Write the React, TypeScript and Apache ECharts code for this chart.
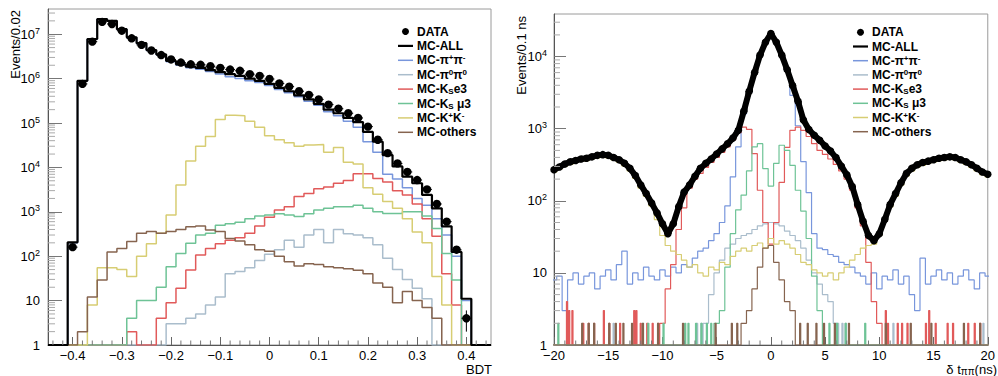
import React, { useEffect, useRef } from "react";
import * as echarts from "echarts";

const FONT = "'Liberation Sans', Arial, Helvetica, sans-serif";

// ---------------- Left panel: BDT, bins of 0.02 (centres -0.44 ... 0.44) ----------------
const bdtCenters: number[] = Array.from({ length: 45 }, (_, k) => Math.round((-0.44 + 0.02 * k) * 100) / 100);

const dataLeft = [0, 0, 160, 7.6e5, 6.8e6, 1.9e7, 1.7e7, 1.2e7, 8.1e6, 5.75e6, 4.3e6, 3.4e6, 2.7e6, 2.3e6, 2.1e6, 2.05e6, 1.9e6, 1.75e6, 1.6e6, 1.5e6, 1.26e6, 1.15e6, 9.8e5, 7.8e5, 6.6e5, 5.2e5, 4.3e5, 3.4e5, 2.6e5, 2.1e5, 1.66e5, 1.3e5, 8.3e4, 4.2e4, 2.1e4, 1.23e4, 7900, 5200, 3200, 1500, 600, 140, 4, 0, 0];
const mcAllLeft = [0, 0, 205, 8.9e5, 7.8e6, 2.2e7, 2.0e7, 1.3e7, 8.5e6, 6.3e6, 4.4e6, 3.5e6, 2.5e6, 2.1e6, 1.86e6, 1.74e6, 1.55e6, 1.4e6, 1.26e6, 1.15e6, 1.0e6, 8.9e5, 7.6e5, 6.2e5, 5.2e5, 4.2e5, 3.4e5, 2.7e5, 2.0e5, 1.66e5, 1.3e5, 1.05e5, 6.3e4, 3.8e4, 1.9e4, 1.05e4, 6200, 4400, 2400, 1200, 470, 125, 11, 0, 0];
const pipiLeft = [0, 0, 200, 8.8e5, 7.7e6, 2.18e7, 1.98e7, 1.28e7, 8.3e6, 6.1e6, 4.3e6, 3.4e6, 2.4e6, 2.0e6, 1.75e6, 1.62e6, 1.45e6, 1.27e6, 1.1e6, 1.0e6, 9.0e5, 8.2e5, 7.0e5, 5.7e5, 4.8e5, 3.9e5, 3.1e5, 2.5e5, 1.8e5, 1.45e5, 1.1e5, 8.0e4, 3.8e4, 2.2e4, 7000, 5500, 3500, 2000, 1400, 700, 300, 100, 10, 0, 0];
const pi0Left = [0, 0, 0, 0, 0, 0, 0, 0, 0, 0, 0, 0, 3, 3, 4, 5, 8, 12, 40, 45, 55, 80, 110, 140, 230, 160, 300, 400, 200, 400, 320, 300, 260, 180, 90, 50, 30, 19, 11, 0, 0, 0, 0, 0, 0];
const ke3Left = [0, 0, 0, 0, 0, 0, 0, 0, 2, 0, 0, 4, 9, 19, 49, 106, 150, 190, 230, 260, 330, 480, 750, 1100, 1300, 2200, 2600, 3300, 3600, 4400, 5100, 7200, 7200, 5600, 4700, 3000, 2400, 1500, 700, 280, 40, 8, 0, 0, 0];
const kmu3Left = [0, 0, 0, 0, 0, 0, 0, 0, 4, 10, 10, 20, 58, 115, 195, 300, 330, 500, 540, 580, 700, 800, 850, 900, 850, 780, 900, 1100, 1200, 1300, 1300, 1400, 1200, 1000, 920, 920, 1000, 1000, 800, 420, 115, 29, 0, 0, 0];
const kkLeft = [0, 0, 0, 0, 8, 55, 55, 50, 35, 100, 190, 330, 850, 4000, 14000, 30000, 50000, 120000, 150000, 145000, 110000, 80000, 52000, 42000, 36000, 30000, 32000, 33000, 22000, 28000, 13000, 12000, 3500, 2500, 1700, 1200, 700, 350, 200, 35, 8, 0, 0, 0, 0];
const othersLeft = [0, 0, 0, 2, 12, 29, 125, 150, 215, 330, 360, 330, 360, 400, 460, 480, 390, 360, 250, 220, 180, 140, 130, 100, 75, 60, 68, 65, 58, 55, 52, 48, 40, 25, 20, 9, 16, 10, 7, 4, 0, 0, 0, 0, 0];

// ---------------- Right panel: delta t, read in 0.5 ns steps (centres -20 ... 20) ----------------
const dtCenters: number[] = Array.from({ length: 81 }, (_, i) => -20 + 0.5 * i);

const dataRight = [
  270, 295, 324, 347, 363, 380, 389, 407, 427, 437,
  427, 398, 372, 331, 282, 224, 166, 126, 93, 68,
  48, 35, 48, 83, 132, 166, 219, 282, 331, 380,
  447, 525, 617, 741, 955, 1740, 3310, 6030, 10500, 15800,
  20900, 15800, 10500, 6600, 3980, 2400, 1320, 977, 813, 692,
  575, 490, 398, 302, 229, 158, 89, 52, 33, 28,
  35, 55, 89, 126, 178, 240, 282, 316, 339, 355,
  372, 389, 398, 407, 398, 372, 347, 316, 282, 251,
  234,
];
const mcAllRight = dataRight;
const pipiRight = [
  8, 9, 3, 8, 10, 7, 9, 10, 6, 9,
  11, 8, 13, 20, 7, 10, 8, 12, 9, 8,
  11, 9, 12, 10, 13, 12, 16, 20, 22, 28,
  35, 50, 85, 215, 560, 1600, 3200, 6000, 10500, 15800,
  20500, 15800, 10500, 6300, 2900, 1100, 350, 130, 35, 22,
  21, 18, 17, 14, 13, 12, 10, 9, 7, 10,
  6, 9, 8, 11, 7, 9, 5, 3, 16, 7,
  9, 11, 8, 10, 7, 9, 11, 8, 6, 10,
  9,
];
const kkRight = [
  250, 275, 300, 320, 340, 355, 360, 380, 395, 405,
  395, 370, 345, 305, 260, 205, 150, 115, 85, 55,
  33, 24, 20, 18, 15, 12, 13, 10, 9, 12,
  11, 14, 13, 17, 20, 22, 20, 24, 26, 22,
  30, 25, 28, 25, 22, 18, 14, 13, 11, 10,
  9, 10, 8, 10, 12, 15, 18, 22, 24, 25,
  33, 52, 82, 115, 165, 220, 260, 290, 310, 330,
  345, 360, 370, 380, 370, 345, 320, 290, 260, 230,
  215,
];
// bodies: first centre, then values in 0.5 ns steps
const ke3RightStart = -10;
const ke3Right = [2, 6, 13, 40, 80, 150, 200, 240, 290, 340, 400, 470, 560, 700, 880, 1050, 980, 450, 140, 50, 25, 50, 180, 550, 950, 1050, 950, 780, 620, 500, 440, 380, 320, 260, 200, 140, 80, 45, 14, 4, 2];
const kmu3RightStart = -5;
const kmu3Right = [2, 3, 12, 35, 75, 120, 260, 560, 620, 280, 160, 330, 590, 500, 310, 140, 72, 30, 9, 3];
const pi0RightStart = -6;
const pi0Right = [2, 5, 10, 15, 22, 25, 30, 33, 35, 40, 45, 48, 50, 48, 45, 38, 33, 28, 22, 15, 10, 7, 5, 4, 2];
const othersRightStart = -2.5;
const othersRight = [2, 3, 6, 12, 22, 24, 14, 8, 4, 3];
// isolated single-bin (0.1 ns) entries: [bin left edge, events]
const ke3Spikes: [number, number][] = [[-18.8, 4], [-18.6, 3], [-18.3, 3], [-17.3, 2], [-16.9, 2], [-16.4, 2], [-15.5, 3], [-14.9, 2], [-14.0, 2], [-12.7, 3], [-12.4, 3], [-12.1, 2], [-11.5, 2], [-10.9, 2], [-10.5, 2], [10.5, 3], [10.7, 2], [11.6, 2], [12.0, 2], [12.5, 2], [14.2, 2], [14.5, 3], [15.1, 2], [16.3, 2], [16.8, 2], [18.1, 2], [18.7, 2], [19.3, 2]];
const kmu3Spikes: [number, number][] = [[-19.6, 2], [-11.8, 2], [-11.3, 2], [-10.0, 2], [-8.0, 2], [-7.7, 2], [-7.0, 2], [-6.5, 2], [-6.0, 2], [-5.6, 2], [5.3, 2], [6.0, 2], [6.8, 2], [8.6, 2]];
const pi0Spikes: [number, number][] = [[-14.6, 2], [-6.8, 2], [-6.5, 2], [6.5, 2], [6.9, 2], [11.2, 2], [19.5, 2]];
const othersSpikes: [number, number][] = [[-17.5, 2], [-16.9, 2], [-16.4, 2], [-14.9, 2], [-14.3, 2], [-13.7, 2], [-12.8, 2], [-11.8, 2], [-10.5, 2], [-8.2, 2], [-5.2, 2], [-3.7, 2], [-3.2, 2], [2.7, 2], [3.3, 2], [4.2, 2], [4.8, 2], [5.8, 2], [7.1, 2], [10.5, 2], [12.9, 2], [14.8, 2], [17.8, 2], [19.3, 2]];

// ---------------- styles ----------------
const C = {
  data: "#000000",
  all: "#000000",
  pipi: "#7896dc",
  pi0: "#aabdcc",
  ke3: "#e15a5a",
  kmu3: "#6ec396",
  kk: "#d7cd73",
  others: "#86644f",
};
const legendLabels = ["DATA", "MC-ALL", "MC-π{sup|+}π{sup|-}", "MC-π{sup|0}π{sup|0}", "MC-K{sub|S}e3", "MC-K{sub|S} μ3", "MC-K{sup|+}K{sup|-}", "MC-others"];
const legendColors = [C.data, C.all, C.pipi, C.pi0, C.ke3, C.kmu3, C.kk, C.others];

const LEFT_YMAX = 3.7e7;
const RIGHT_YMAX = 3.9e4;

function stepFromCenters(centers: number[], vals: number[], half: number): [number, number][] {
  const pts: [number, number][] = [];
  for (let i = 0; i < centers.length; i++) pts.push([centers[i] - half, vals[i] > 1 ? vals[i] : 1]);
  const last = vals[vals.length - 1];
  pts.push([centers[centers.length - 1] + half, last > 1 ? last : 1]);
  return pts;
}

function stepFine(body: number[], start: number, spikes: [number, number][]): [number, number][] {
  const X0 = -20.25, F = 0.1, N = 405;
  const fine: number[] = new Array(N).fill(0);
  body.forEach((v, i) => {
    const c = start + 0.5 * i;
    const j0 = Math.round((c - 0.25 - X0) / F);
    for (let j = j0; j < j0 + 5; j++) if (j >= 0 && j < N) fine[j] = v;
  });
  spikes.forEach(([x, v]) => {
    const j = Math.round((x - X0) / F);
    if (j >= 0 && j < N) fine[j] = Math.max(fine[j], v);
  });
  const pts: [number, number][] = [];
  let prev = -1;
  for (let j = 0; j < N; j++) {
    const v = fine[j] > 1 ? fine[j] : 1;
    if (v !== prev) {
      pts.push([X0 + F * j, v]);
      prev = v;
    }
  }
  pts.push([X0 + F * N, prev]);
  return pts;
}

function histSeries(name: string, data: [number, number][], color: string, width: number, axis: number, z = 2) {
  return {
    type: "line",
    name,
    xAxisIndex: axis,
    yAxisIndex: axis,
    data,
    step: "end",
    symbol: "none",
    showSymbol: false,
    lineStyle: { color, width },
    silent: true,
    z,
  };
}

function fmtLog(v: number) {
  const l = Math.log10(v);
  const r = Math.round(l);
  if (Math.abs(l - r) > 1e-6) return "";
  if (r === 0) return "1";
  if (r === 1) return "10";
  return "10{s|" + r + "}";
}

function fmtX1(v: number) {
  if (Math.abs(v) < 1e-9) return "0";
  return (v < 0 ? "\u2212" : "") + Math.abs(v).toFixed(1);
}
function fmtX2(v: number) {
  if (Math.abs(v) < 1e-9) return "0";
  return (v < 0 ? "\u2212" : "") + String(Math.abs(v));
}

function legendGraphic(lineX0: number, lineX1: number, textX: number, y0: number, dy: number) {
  const els: any[] = [];
  legendLabels.forEach((lab, i) => {
    const y = y0 + dy * i;
    if (i === 0) {
      els.push({ type: "circle", shape: { cx: (lineX0 + lineX1) / 2, cy: y, r: 3.5 }, style: { fill: "#000" }, silent: true });
    } else {
      els.push({
        type: "line",
        shape: { x1: lineX0, y1: y, x2: lineX1, y2: y },
        style: { stroke: legendColors[i], lineWidth: i === 1 ? 2.2 : 1.5 },
        silent: true,
      });
    }
    els.push({
      type: "text",
      x: textX,
      y,
      silent: true,
      style: {
        text: lab,
        fill: "#000",
        fontFamily: FONT,
        fontSize: 12,
        fontWeight: "bold",
        lineHeight: 13,
        align: "left",
        verticalAlign: "middle",
        textAlign: "left",
        textVerticalAlign: "middle",
        rich: {
          sup: { fontSize: 8, fontWeight: "bold", fontFamily: FONT, verticalAlign: "top", lineHeight: 6, fill: "#000" },
          sub: { fontSize: 8, fontWeight: "bold", fontFamily: FONT, verticalAlign: "bottom", lineHeight: 6, fill: "#000" },
        },
      },
    });
  });
  return els;
}

function minorY(axis: number, xMin: number, ymax: number, len: number) {
  const pts: [number, number][] = [];
  for (let d = 0; d < 9; d++)
    for (let m = 2; m <= 9; m++) {
      const v = m * Math.pow(10, d);
      if (v < ymax) pts.push([xMin, v]);
    }
  return {
    type: "custom",
    xAxisIndex: axis,
    yAxisIndex: axis,
    data: pts,
    encode: { x: 0, y: 1 },
    silent: true,
    z: 6,
    renderItem: (_p: any, api: any) => {
      const p = api.coord([api.value(0), api.value(1)]);
      return { type: "line", shape: { x1: p[0], y1: p[1], x2: p[0] + len, y2: p[1] }, style: { stroke: "#aaaaaa", lineWidth: 1 } };
    },
  };
}

function minorX(axis: number, vals: number[]) {
  return {
    type: "custom",
    xAxisIndex: axis,
    yAxisIndex: axis,
    data: vals.map((v) => [v, 1]),
    encode: { x: 0, y: 1 },
    silent: true,
    z: 6,
    renderItem: (_p: any, api: any) => {
      const p = api.coord([api.value(0), 1]);
      return { type: "line", shape: { x1: p[0], y1: p[1], x2: p[0], y2: p[1] - 4.5 }, style: { stroke: "#777777", lineWidth: 1 } };
    },
  };
}

function buildOption() {
  const half = 0.01;
  const leftMinorX: number[] = [];
  for (let k = -22; k <= 22; k++) if (k % 5 !== 0) leftMinorX.push(Math.round(k * 2) / 100);
  const rightMinorX: number[] = [];
  for (let k = -19; k <= 19; k++) if (k % 5 !== 0) rightMinorX.push(k);

  const dataPts = bdtCenters.map((c, i) => [c, dataLeft[i]]).filter((p) => p[1] > 0);

  const yAxisCommon = (max: number, tickLen: number, margin: number) => ({
    type: "log",
    logBase: 10,
    min: 1,
    max,
    axisLine: { show: true, onZero: false, lineStyle: { color: "#555", width: 1 } },
    axisTick: { show: true, inside: true, length: tickLen, lineStyle: { color: "#777" } },
    splitLine: { show: false },
    axisLabel: {
      margin,
      fontSize: 13,
      color: "#000",
      fontFamily: FONT,
      lineHeight: 16,
      showMaxLabel: false,
      formatter: fmtLog,
      rich: { s: { fontSize: 9, fontFamily: FONT, verticalAlign: "top", lineHeight: 9, color: "#000" } },
    },
  });

  const xAxisCommon = {
    type: "value",
    axisLine: { show: true, onZero: false, lineStyle: { color: "#555", width: 1 } },
    axisTick: { show: true, inside: true, length: 8, lineStyle: { color: "#666" } },
    splitLine: { show: false },
  };

  return {
    animation: false,
    backgroundColor: "#ffffff",
    textStyle: { fontFamily: FONT },
    grid: [
      { left: 48, top: 9, width: 443, height: 336, show: true, borderColor: "#9a9a9a", borderWidth: 1 },
      { left: 554, top: 14, width: 440, height: 331, show: true, borderColor: "#9a9a9a", borderWidth: 1 },
    ],
    xAxis: [
      {
        ...xAxisCommon,
        gridIndex: 0,
        min: -0.45,
        max: 0.45,
        splitNumber: 9,
        axisLabel: { margin: 4, fontSize: 13, color: "#000", fontFamily: FONT, showMinLabel: false, showMaxLabel: false, formatter: fmtX1 },
      },
      {
        ...xAxisCommon,
        gridIndex: 1,
        min: -20,
        max: 20,
        interval: 5,
        axisLabel: { margin: 4, fontSize: 13, color: "#000", fontFamily: FONT, formatter: fmtX2 },
      },
    ],
    yAxis: [
      { ...yAxisCommon(LEFT_YMAX, 14, 8), gridIndex: 0 },
      { ...yAxisCommon(RIGHT_YMAX, 12, 7), gridIndex: 1 },
    ],
    series: [
      // left panel
      histSeries("MC-pipi", stepFromCenters(bdtCenters, pipiLeft, half), C.pipi, 1.5, 0),
      histSeries("MC-pi0pi0", stepFromCenters(bdtCenters, pi0Left, half), C.pi0, 1.5, 0),
      histSeries("MC-Kse3", stepFromCenters(bdtCenters, ke3Left, half), C.ke3, 1.5, 0),
      histSeries("MC-Ksmu3", stepFromCenters(bdtCenters, kmu3Left, half), C.kmu3, 1.5, 0),
      histSeries("MC-KK", stepFromCenters(bdtCenters, kkLeft, half), C.kk, 1.5, 0),
      histSeries("MC-others", stepFromCenters(bdtCenters, othersLeft, half), C.others, 1.5, 0),
      histSeries("MC-ALL", stepFromCenters(bdtCenters, mcAllLeft, half), C.all, 2.2, 0, 3),
      {
        type: "custom",
        name: "DATA",
        xAxisIndex: 0,
        yAxisIndex: 0,
        data: dataPts,
        encode: { x: 0, y: 1 },
        silent: true,
        z: 5,
        renderItem: (_p: any, api: any) => {
          const x = api.value(0);
          const v = api.value(1);
          const p = api.coord([x, v]);
          const pl = api.coord([x - half, v]);
          const pr = api.coord([x + half, v]);
          const e = Math.sqrt(v);
          const pt = api.coord([x, v + e]);
          const pb = api.coord([x, Math.max(v - e, 1)]);
          return {
            type: "group",
            children: [
              { type: "line", shape: { x1: pl[0], y1: p[1], x2: pr[0], y2: p[1] }, style: { stroke: "#000", lineWidth: 1 } },
              { type: "line", shape: { x1: p[0], y1: pt[1], x2: p[0], y2: pb[1] }, style: { stroke: "#000", lineWidth: 1 } },
              { type: "circle", shape: { cx: p[0], cy: p[1], r: 4.2 }, style: { fill: "#000" } },
            ],
          };
        },
      },
      minorY(0, -0.45, LEFT_YMAX, 7),
      minorX(0, leftMinorX),
      // right panel
      histSeries("MC-pipi", stepFromCenters(dtCenters, pipiRight, 0.25), C.pipi, 1.2, 1),
      histSeries("MC-pi0pi0", stepFine(pi0Right, pi0RightStart, pi0Spikes), C.pi0, 1.2, 1),
      histSeries("MC-Kse3", stepFine(ke3Right, ke3RightStart, ke3Spikes), C.ke3, 1.2, 1),
      histSeries("MC-Ksmu3", stepFine(kmu3Right, kmu3RightStart, kmu3Spikes), C.kmu3, 1.2, 1),
      histSeries("MC-KK", stepFromCenters(dtCenters, kkRight, 0.25), C.kk, 1.2, 1),
      histSeries("MC-others", stepFine(othersRight, othersRightStart, othersSpikes), C.others, 1.2, 1),
      histSeries("MC-ALL", stepFromCenters(dtCenters, mcAllRight, 0.25), C.all, 2, 1, 3),
      {
        type: "line",
        name: "DATA",
        xAxisIndex: 1,
        yAxisIndex: 1,
        data: dtCenters.map((c, i) => [c, dataRight[i]]),
        symbol: "circle",
        symbolSize: 7.5,
        showSymbol: true,
        showAllSymbol: true,
        itemStyle: { color: "#000" },
        lineStyle: { color: "#000", width: 6 },
        silent: true,
        z: 5,
      },
      minorY(1, -20, RIGHT_YMAX, 6),
      minorX(1, rightMinorX),
    ],
    graphic: [
      ...legendGraphic(398, 413, 417, 31.5, 14.4),
      ...legendGraphic(853, 868, 872, 32.3, 14.2),
      {
        type: "text",
        x: 15,
        y: 10,
        rotation: Math.PI / 2,
        silent: true,
        style: { text: "Events/0.02", fill: "#000", fontFamily: FONT, fontSize: 13, align: "right", verticalAlign: "middle", textAlign: "right", textVerticalAlign: "middle" },
      },
      {
        type: "text",
        x: 521,
        y: 16,
        rotation: Math.PI / 2,
        silent: true,
        style: { text: "Events/0.1 ns", fill: "#000", fontFamily: FONT, fontSize: 13, align: "right", verticalAlign: "middle", textAlign: "right", textVerticalAlign: "middle" },
      },
      {
        type: "text",
        x: 492,
        y: 369,
        silent: true,
        style: { text: "BDT", fill: "#000", fontFamily: FONT, fontSize: 13, align: "right", verticalAlign: "middle", textAlign: "right", textVerticalAlign: "middle" },
      },
      {
        type: "text",
        x: 997,
        y: 369,
        silent: true,
        style: {
          text: "δ t{s|ππ}(ns)",
          fill: "#000",
          fontFamily: FONT,
          fontSize: 13,
          lineHeight: 14,
          align: "right",
          verticalAlign: "middle",
          textAlign: "right",
          textVerticalAlign: "middle",
          rich: { s: { fontSize: 10, fontFamily: FONT, verticalAlign: "bottom", lineHeight: 8, fill: "#000" } },
        },
      },
    ],
  };
}

export default function App() {
  const ref = useRef<HTMLDivElement>(null);
  useEffect(() => {
    document.body.style.margin = "0";
    const chart = echarts.init(ref.current as HTMLDivElement, undefined, { renderer: "svg", width: 998, height: 376 });
    chart.setOption(buildOption() as any);
    return () => {
      chart.dispose();
    };
  }, []);
  return <div ref={ref} style={{ position: "absolute", left: 0, top: 0, width: 998, height: 376, background: "#fff" }} />;
}
